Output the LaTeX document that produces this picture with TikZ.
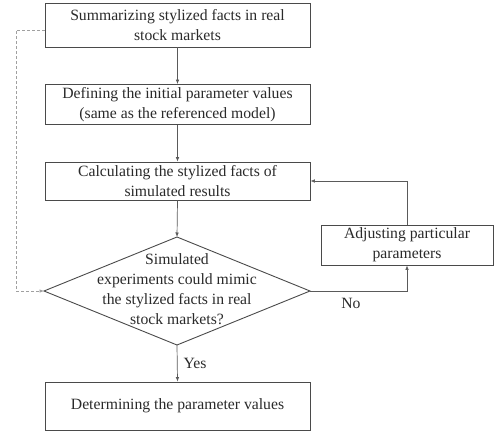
\documentclass[tikz,border=0pt]{standalone}
\usepackage{fontspec}
\setmainfont{Liberation Serif}
\usetikzlibrary{arrows.meta}
\definecolor{edge}{HTML}{4A4A4A}
\definecolor{flow}{HTML}{5A5A5A}
\definecolor{ink}{HTML}{2A2A2A}
\definecolor{dashgray}{HTML}{A0A0A0}
\begin{document}
\begin{tikzpicture}[x=1pt,y=-1pt,
  txt/.style={font=\fontsize{15.7}{20}\selectfont, text=ink, align=center, inner sep=0pt},
  stepbox/.style={draw=edge, line width=0.9pt, minimum width=265pt, inner sep=0pt,
    font=\fontsize{15.7}{20}\selectfont, text=ink, align=center},
  flowline/.style={draw=flow, line width=0.7pt, -{Latex[length=4.5pt,width=3.6pt]}},
  backline/.style={draw=dashgray, line width=0.7pt, dash pattern=on 3pt off 2pt,
    -{Latex[length=4.5pt,width=3.6pt]}}]
\useasboundingbox (0,0) rectangle (494,433);

% process steps
\node[stepbox, minimum height=44pt] (sum) at (177.5,25) {Summarizing stylized facts in real\\stock markets};
\node[stepbox, minimum height=40pt] (init) at (177.5,104.5) {Defining the initial parameter values\\(same as the referenced model)};
\node[stepbox, minimum height=38pt] (calc) at (177.5,181) {Calculating the stylized facts of\\simulated results};
\node[stepbox, minimum height=48pt] (final) at (177.5,406) {Determining the parameter values};
\node[draw=edge, line width=0.9pt, minimum width=172pt, minimum height=40pt, inner sep=0pt,
  font=\fontsize{15.7}{20}\selectfont, text=ink, align=center] (adj) at (407,245) {Adjusting particular\\parameters};

% decision
\coordinate (dtop) at (177,237);
\coordinate (dright) at (310,291);
\coordinate (dbottom) at (177,345);
\coordinate (dleft) at (44,291);
\draw[edge, line width=0.9pt] (dtop) -- (dright) -- (dbottom) -- (dleft) -- cycle;
\node[txt] (qtext) at (177,289) {Simulated\\experiments could mimic\\the stylized facts in real\\stock markets?};

% connectors
\draw[flowline] (sum.south) -- (init.north);
\draw[flowline] (init.south) -- (calc.north);
\draw[flowline] (calc.south) -- (dtop);
\draw[flowline] (dbottom) -- (final.north);
\draw[flowline] (dright) -| (adj.south);
\draw[flowline] (adj.north) |- (calc.east);
\coordinate (loop) at (16,30);
\draw[backline] (sum.west |- loop) -- (loop) |- (dleft);

% branch labels
\node[txt] (yes) at (195,363) {Yes};
\node[txt] (no) at (351,303) {No};
\end{tikzpicture}
\end{document}
